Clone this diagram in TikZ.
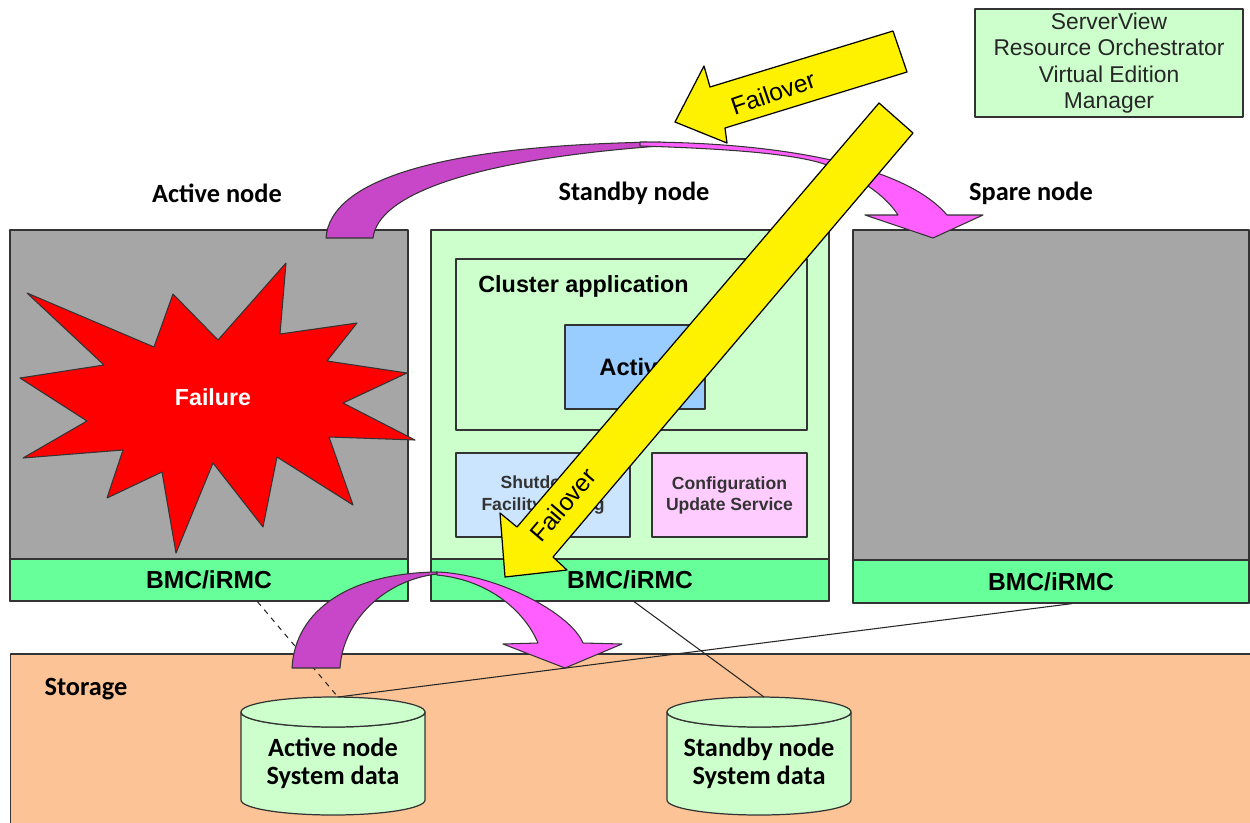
\documentclass[tikz,border=0pt]{standalone}
\usepackage{fontspec}
\setmainfont{Liberation Sans}
\newfontfamily\calfont{Carlito}
\usepackage{xcolor}
\usepackage{tikz}
\usetikzlibrary{calc}
\definecolor{NodeGray}{RGB}{166,166,166}
\definecolor{PaleGreen}{RGB}{204,255,204}
\definecolor{BmcGreen}{RGB}{102,255,153}
\definecolor{AppBlue}{RGB}{153,204,255}
\definecolor{SdfBlue}{RGB}{204,229,255}
\definecolor{CusPink}{RGB}{255,204,255}
\definecolor{StorOrange}{RGB}{252,196,150}
\definecolor{ArcDark}{RGB}{200,70,200}
\definecolor{ArcLight}{RGB}{255,95,255}
\definecolor{FailRed}{RGB}{255,0,0}
\tikzset{
  box/.style={draw=black!80,line width=0.7pt,inner sep=0pt},
  host/.style={box,minimum width=7.96cm,minimum height=7.42cm},
  bmc/.style={box,fill=BmcGreen,minimum width=7.96cm,minimum height=0.84cm,
              font=\fontsize{14}{16}\selectfont\bfseries},
  hdr/.style={font=\calfont\fontsize{15}{16}\selectfont\bfseries,align=center},
  svc/.style={box,minimum height=1.68cm,align=center,text=black!80,
              font=\fontsize{10}{12}\selectfont\bfseries},
  cyl/.style={draw=black!80,line width=0.7pt,fill=PaleGreen},
  link/.style={line width=0.6pt,black!85},
  ribdark/.style={draw=black!80,line width=0.6pt,fill=ArcDark},
  riblight/.style={draw=black!80,line width=0.6pt,fill=ArcLight},
  yarrow/.style={draw=black,line width=0.7pt,fill=yellow},
  ylabel/.style={font=\fontsize{14}{16}\selectfont,inner sep=0pt},
  burst/.style={draw=black!80,line width=0.6pt,fill=FailRed},
}
\newcommand{\dbcyl}[3]{%
  \path[cyl] (#2-92,712) -- (#2-92,800)
    arc[start angle=180,end angle=0,x radius=92,y radius=15]
    -- (#2+92,712) arc[start angle=0,end angle=180,x radius=92,y radius=15] -- cycle;
  \draw[cyl] (#2,712) ellipse[x radius=92,y radius=15];
  \node[hdr] (#1) at (#2,763) {#3};
  \coordinate (#1top) at (#2+5,697);
}

\begin{document}
\begin{tikzpicture}[x=0.02cm,y=-0.02cm,line join=round]
  \useasboundingbox (0,0) rectangle (1250,822);
  \clip (0,0) rectangle (1250,822);

  \node[host,fill=NodeGray] (actnode) at (209,415.5) {};
  \node[bmc] (actbmc) at (209,580) {BMC/iRMC};
  \node[host,fill=PaleGreen] (sbynode) at (630,415.5) {};
  \node[bmc] (sbybmc) at (630,580) {BMC/iRMC};
  \node[host,fill=NodeGray,minimum width=7.92cm,minimum height=7.46cm] (sprnode) at (1051,416.5) {};
  \node[bmc,minimum width=7.92cm,minimum height=0.86cm] (sprbmc) at (1051,581.5) {BMC/iRMC};

  \node[hdr] (actlbl) at (217,193) {Active node};
  \node[hdr] (sbylbl) at (634,193) {Standby node};
  \node[hdr] (sprlbl) at (1031,193) {Spare node};

  \node[box,fill=PaleGreen,minimum width=5.36cm,minimum height=2.16cm,align=center,
        text=black!85,font=\fontsize{13}{15}\selectfont] (rormgr) at (1109,63)
    {ServerView\\Resource Orchestrator\\Virtual Edition\\Manager};

  \node[box,fill=PaleGreen,minimum width=7.02cm,minimum height=3.42cm] (cluster) at (631.5,344.5) {};
  \node[anchor=west,inner sep=0pt,font=\fontsize{13.3}{15}\selectfont\bfseries] (clulbl) at (478,286) {Cluster application};
  \node[box,fill=AppBlue,minimum width=2.8cm,minimum height=1.68cm,
        font=\fontsize{13.5}{15}\selectfont\bfseries] (actapp) at (635,367) {Active};
  \node[svc,fill=SdfBlue,minimum width=3.48cm] (sdf) at (543,495) {Shutdown\\Facility setting};
  \node[svc,fill=CusPink,minimum width=3.1cm] (cus) at (729.5,495) {Configuration\\Update Service};

  \node[box,fill=StorOrange,minimum width=25.1cm,minimum height=3.72cm] (storage) at (638,747) {};
  \node[hdr] (storlbl) at (86,689) {Storage};
  \dbcyl{actdata}{333}{Active node\\System data}
  \dbcyl{sbydata}{759}{Standby node\\System data}

  \coordinate (actlink) at ($(actbmc.south west)+(248,0)$);
  \coordinate (sbylink) at ($(sbybmc.south)+(4,0)$);
  \coordinate (sprlink) at ($(sprbmc.south)+(21,0)$);
  \draw[link,dashed] (actlink) -- (actdatatop);
  \draw[link] (sprlink) -- (actdatatop);
  \draw[link] (sbylink) -- (sbydatatop);

  \draw[burst] (286,263) -- (280,334) -- (357,323) -- (327,361) -- (407,373) -- (343,403)
    -- (415,440) -- (329,437) -- (353,505) -- (277,457) -- (263,527) -- (213,463)
    -- (176,553) -- (162,472) -- (107,498) -- (123,450) -- (23,458) -- (87,421)
    -- (20,378) -- (104,365) -- (27,293) -- (154,347) -- (173,294) -- (218,340) -- cycle;
  \node[text=white,font=\fontsize{13.2}{15}\selectfont\bfseries] (failure) at (213,397) {Failure};

  \draw[ribdark] (326,238) .. controls (330,180) and (440,145) .. (660,142)
    -- (660,146) .. controls (470,160) and (378,195) .. (373,238) -- cycle;
  \draw[riblight] (640,142) .. controls (760,142) and (900,160) .. (947,215)
    -- (983,215) -- (933,238) -- (865,215) -- (898,215)
    .. controls (885,195) and (860,178) .. (827,165)
    .. controls (800,155) and (740,149) .. (640,146) -- cycle;

  \draw[ribdark] (292,668) .. controls (295,610) and (350,573) .. (437,572)
    -- (437,574) .. controls (385,580) and (343,620) .. (340,668) -- cycle;
  \draw[riblight] (437,572) .. controls (495,574) and (570,612) .. (583,643)
    -- (622,644) -- (565,668) -- (503,644) -- (538,643)
    .. controls (525,612) and (490,580) .. (437,575) -- cycle;

  \draw[yarrow] (893,31) -- (907,72) -- (725,128) -- (727,143) -- (675,122)
    -- (704,66) -- (710,87) -- cycle;
  \node[ylabel,rotate=19] (upfail) at (773,93) {Failover};
  \draw[yarrow] (879,103) -- (913,133) -- (553,557) -- (567,570) -- (505,577)
    -- (500,513) -- (517,527) -- cycle;
  \node[ylabel,rotate=49.5] (dnfail) at (563,505) {Failover};
\end{tikzpicture}
\end{document}
